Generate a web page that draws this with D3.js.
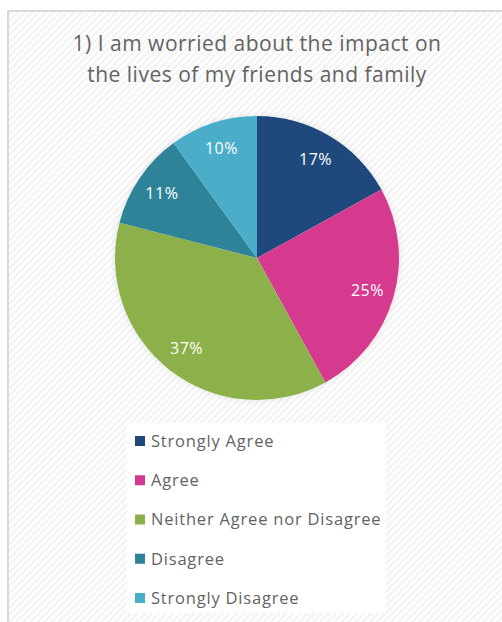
<!DOCTYPE html>
<html>
<head>
<meta charset="utf-8">
<script src="https://cdn.jsdelivr.net/npm/d3@7"></script>
<style>
  html, body { margin: 0; padding: 0; background: #fff; }
  svg { display: block; }
</style>
</head>
<body>
<svg id="chart" width="502" height="622"></svg>
<script>
// Survey responses for question 1
const categories = ["Strongly Agree", "Agree", "Neither Agree nor Disagree", "Disagree", "Strongly Disagree"];
const values = [17, 25, 37, 11, 10];
const colors = ["#1f497d", "#d63a8e", "#8db14a", "#2e8399", "#4aaec9"];
const titleLines = ["1) I am worried about the impact on", "the lives of my friends and family"];

const svg = d3.select("#chart");
const font = "'Open Sans', Lato, sans-serif";

// Hatched panel background
const defs = svg.append("defs");
const pat = defs.append("pattern")
  .attr("id", "hatch")
  .attr("patternUnits", "userSpaceOnUse")
  .attr("width", 5).attr("height", 5)
  .attr("patternTransform", "rotate(45)");
pat.append("rect").attr("width", 5).attr("height", 5).attr("fill", "#ffffff");
pat.append("rect").attr("width", 2.5).attr("height", 5).attr("fill", "#f3f3f3");

const shadow = defs.append("filter").attr("id", "soft")
  .attr("x", "-20%").attr("y", "-20%").attr("width", "140%").attr("height", "140%");
shadow.append("feDropShadow").attr("dx", 0).attr("dy", 0)
  .attr("stdDeviation", 3).attr("flood-color", "#000").attr("flood-opacity", 0.1);

svg.append("rect")
  .attr("x", 8).attr("y", 11).attr("width", 510).attr("height", 630)
  .attr("fill", "url(#hatch)")
  .attr("stroke", "#d9d9d9").attr("stroke-width", 2);

// Title
svg.append("text")
  .attr("x", 257).attr("y", 51)
  .attr("text-anchor", "middle")
  .attr("font-family", font).attr("font-size", 21)
  .attr("letter-spacing", 0.5)
  .attr("fill", "#636363")
  .selectAll("tspan").data(titleLines).join("tspan")
  .attr("x", 257).attr("dy", (d, i) => i === 0 ? 0 : 31)
  .text(d => d);

// Pie
const cx = 257, cy = 258, r = 142;
const pie = d3.pie().sort(null).value(d => d)(values);
const arc = d3.arc().innerRadius(0).outerRadius(r);
const labelArc = d3.arc().innerRadius(r * 0.81).outerRadius(r * 0.81);

const g = svg.append("g").attr("transform", `translate(${cx},${cy})`);
g.append("circle").attr("r", r).attr("fill", "#fff").attr("filter", "url(#soft)");
g.selectAll("path.slice").data(pie).join("path")
  .attr("class", "slice")
  .attr("d", arc)
  .attr("fill", (d, i) => colors[i]);

g.selectAll("text.lbl").data(pie).join("text")
  .attr("class", "lbl")
  .attr("transform", d => `translate(${labelArc.centroid(d)})`)
  .attr("text-anchor", "middle")
  .attr("dy", "0.35em")
  .attr("font-family", font).attr("font-size", 16)
  .attr("letter-spacing", 0.5)
  .attr("fill", "#ffffff")
  .text(d => d.data + "%");

// Legend
const legX = 127, legY = 423;
svg.append("rect")
  .attr("x", legX).attr("y", legY).attr("width", 259).attr("height", 190)
  .attr("fill", "#ffffff");

const y = d3.scalePoint().domain(categories).range([441, 598]);
const leg = svg.append("g").selectAll("g").data(categories).join("g")
  .attr("transform", d => `translate(135,${y(d)})`);
leg.append("rect")
  .attr("x", 0).attr("y", -5).attr("width", 10).attr("height", 10)
  .attr("fill", (d, i) => colors[i]);
leg.append("text")
  .attr("x", 16).attr("dy", "0.35em")
  .attr("font-family", font).attr("font-size", 16.5)
  .attr("letter-spacing", 0.8)
  .attr("fill", "#636363")
  .text(d => d);
</script>
</body>
</html>
